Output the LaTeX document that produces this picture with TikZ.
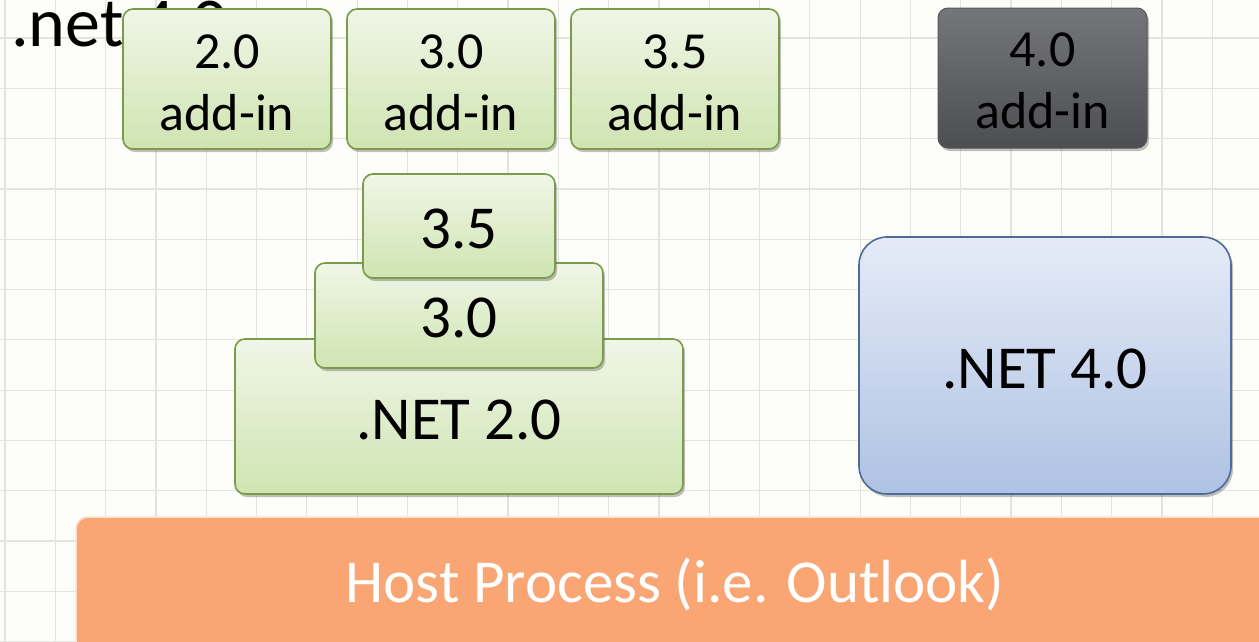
\documentclass[tikz,border=0pt]{standalone}
\usepackage{fontspec}
\setmainfont{Carlito}
\usetikzlibrary{shadows}
\definecolor{bgc}{HTML}{FDFDF9}
\definecolor{gridc}{HTML}{E3E3DF}
\definecolor{greenb}{HTML}{7A9B47}
\definecolor{greent}{HTML}{F0F6E7}
\definecolor{greenbot}{HTML}{CFE4B1}
\definecolor{grayt}{HTML}{75767A}
\definecolor{graybot}{HTML}{4D4E51}
\definecolor{grayb}{HTML}{55565A}
\definecolor{bluet}{HTML}{E5EBF7}
\definecolor{bluebot}{HTML}{AEC2E3}
\definecolor{blueb}{HTML}{4C6B99}
\definecolor{hostc}{HTML}{F9A674}
\definecolor{hostb}{HTML}{FCE0CF}
\begin{document}
\begin{tikzpicture}[x=1pt,y=-1pt,
  gridline/.style={draw=gridc, line width=1.2pt},
  boxshadow/.style={drop shadow={shadow xshift=2pt, shadow yshift=-3pt, opacity=0.35, fill=black!70}},
  greenbox/.style={draw=greenb, line width=1.6pt, top color=greent, bottom color=greenbot, rounded corners=10pt, inner sep=0pt, boxshadow},
  graybox/.style={draw=grayb, line width=1pt, top color=grayt, bottom color=graybot, rounded corners=10pt, inner sep=0pt, boxshadow},
  bluebox/.style={draw=blueb, line width=1.6pt, top color=bluet, bottom color=bluebot, rounded corners=28pt, inner sep=0pt, boxshadow},
  hostbox/.style={draw=hostb, line width=1.5pt, fill=hostc, rounded corners=12pt, inner sep=0pt},
  addtxt/.style={font=\fontsize{52}{62}\selectfont, align=center, inner sep=0pt, text=black},
  bigtxt/.style={font=\fontsize{61}{72}\selectfont, inner sep=0pt, text=black},
  hosttxt/.style={font=\fontsize{61}{72}\selectfont, inner sep=0pt, text=white},
  titletxt/.style={font=\fontsize{70}{80}\selectfont, inner sep=0pt, text=black}
]
\useasboundingbox (0,0) rectangle (1259,641);
\clip (0,0) rectangle (1259,641);
\fill[bgc] (0,0) rectangle (1259,641);
\foreach \i in {0,...,25} \draw[gridline] ({5+50.3*\i},0) -- ({5+50.3*\i},641);
\foreach \j in {0,...,13} \draw[gridline] (0,{-12.3+50.3*\j}) -- (1259,{-12.3+50.3*\j});

\node[titletxt, anchor=base west] (title) at (11,46) {.net 4.0};

% add-in boxes
\node[greenbox, minimum width=208pt, minimum height=140pt] (a20) at (227,79) {};
\node[addtxt] (a20t) at ([yshift=-3.5pt]a20.center) {2.0\\add-in};
\node[greenbox, minimum width=208pt, minimum height=140pt] (a30) at (451,79) {};
\node[addtxt] (a30t) at ([yshift=-3.5pt]a30.center) {3.0\\add-in};
\node[greenbox, minimum width=208pt, minimum height=140pt] (a35) at (675,79) {};
\node[addtxt] (a35t) at ([yshift=-3.5pt]a35.center) {3.5\\add-in};
\node[graybox, minimum width=209pt, minimum height=140pt] (a40) at (1042.5,78) {};
\node[addtxt] (a40t) at ([yshift=-3pt]a40.center) {4.0\\add-in};

% framework stack
\node[greenbox, minimum width=448pt, minimum height=155pt] (n20) at (459,416.5) {};
\node[bigtxt] (n20t) at ([yshift=-3pt]n20.center) {.NET 2.0};
\node[greenbox, minimum width=288pt, minimum height=105pt] (n30) at (459,315.5) {};
\node[bigtxt] (n30t) at ([yshift=-2.5pt]n30.center) {3.0};
\node[greenbox, minimum width=192pt, minimum height=104pt] (n35) at (459,226) {};
\node[bigtxt] (n35t) at ([yshift=-3pt]n35.center) {3.5};

% .NET 4.0
\node[bluebox, minimum width=372pt, minimum height=257pt] (n40) at (1045,365.5) {};
\node[bigtxt] (n40t) at ([yshift=-3.5pt]n40.center) {.NET 4.0};

% host process
\node[hostbox, minimum width=1198pt, minimum height=140pt] (host) at (675,587) {};
\node[hosttxt, anchor=base] (hostt) at (675,602) {Host Process (i.e. Outlook)};
\end{tikzpicture}
\end{document}
